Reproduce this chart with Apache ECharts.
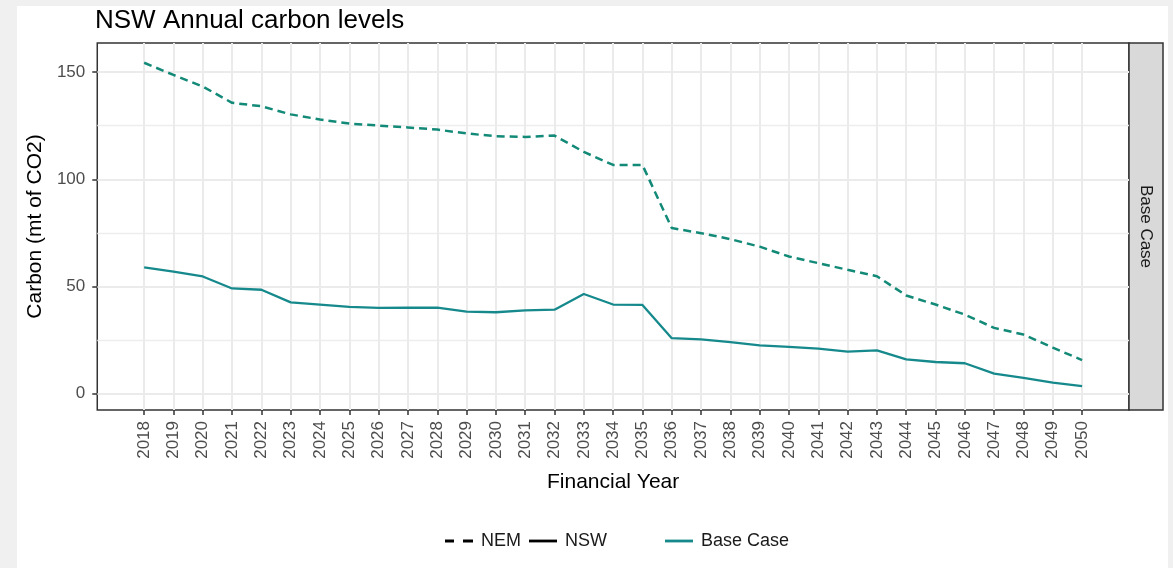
<!DOCTYPE html>
<html>
<head>
<meta charset="utf-8">
<script src="https://cdn.jsdelivr.net/npm/echarts@6/dist/echarts.min.js"></script>
<style>
html,body{margin:0;padding:0;background:#f0f0f0;width:1173px;height:568px;overflow:hidden;}
#wrap{position:absolute;left:17px;top:6px;width:1151px;height:562px;background:#ffffff;}
#chart{width:1151px;height:562px;}
</style>
</head>
<body>
<div id="wrap"><div id="chart"></div></div>
<script>
const years = [2018,2019,2020,2021,2022,2023,2024,2025,2026,2027,2028,2029,2030,2031,2032,2033,2034,2035,2036,2037,2038,2039,2040,2041,2042,2043,2044,2045,2046,2047,2048,2049,2050];
const nemValues = [154.4,148.7,143.3,135.7,134.1,130.3,127.9,126.0,125.1,124.2,123.2,121.4,120.1,119.8,120.4,112.8,106.7,106.7,77.3,74.9,72.1,68.6,64.0,60.9,57.8,54.8,45.8,41.6,36.9,30.7,27.6,21.5,15.7];
const nswValues = [58.9,57.0,54.7,49.1,48.5,42.6,41.6,40.5,40.0,40.1,40.2,38.3,38.0,38.9,39.2,46.5,41.6,41.4,25.9,25.3,24.1,22.5,21.8,21.0,19.6,20.2,16.0,14.8,14.2,9.4,7.4,5.2,3.5];
const yMajorTicks = [0,50,100,150];
const yMinorTicks = [25,75,125];
const titleText = 'NSW Annual carbon levels';
const facetLabel = 'Base Case';

const FONT = "'Liberation Sans', Arial, sans-serif";
const teal = '#16898c';
const tealDash = '#138a78';
const dashIcon = 'path://M0,0H9V2.8H0Z M18,0H28V2.8H18Z';
const solidIcon = 'path://M0,0H28V2.8H0Z';

const chart = echarts.init(document.getElementById('chart'), null, {renderer:'canvas'});
const gridL = 78, gridT = 37, gridW = 1034, gridH = 367;

chart.setOption({
  animation: false,
  backgroundColor: 'transparent',
  textStyle: {fontFamily: FONT},
  title: {
    text: titleText, left: gridL, top: 1, padding: 0,
    textStyle: {fontFamily: FONT, fontSize: 26, fontWeight: 'normal', color: '#000', lineHeight: 28}
  },
  grid: {
    left: gridL, top: gridT, width: gridW, height: gridH,
    show: true, backgroundColor: '#fff', borderColor: '#333', borderWidth: 1.5
  },
  legend: [
    {
      left: 428, top: 526, padding: 0, itemWidth: 28, itemHeight: 2.8, itemGap: 8,
      textStyle: {fontFamily: FONT, fontSize: 18, color: '#1a1a1a', padding: [0, 0, 0, 3]},
      selectedMode: false,
      data: [
        {name: 'NEM', icon: dashIcon, itemStyle: {color: '#000'}},
        {name: 'NSW', icon: solidIcon, itemStyle: {color: '#000'}}
      ]
    },
    {
      left: 648, top: 526, padding: 0, itemWidth: 28, itemHeight: 2.8,
      textStyle: {fontFamily: FONT, fontSize: 18, color: '#1a1a1a', padding: [0, 0, 0, 3]},
      selectedMode: false,
      data: [{name: 'Base Case', icon: solidIcon, itemStyle: {color: teal}}]
    }
  ],
  xAxis: {
    type: 'value', min: 2016.4, max: 2051.6,
    name: 'Financial Year', nameLocation: 'middle', nameGap: 62,
    nameTextStyle: {fontFamily: FONT, fontSize: 21, color: '#000'},
    axisLine: {show: false, onZero: false},
    axisTick: {show: true, length: 5, customValues: years, lineStyle: {color: '#333', width: 1.5}},
    axisLabel: {
      customValues: years, rotate: 90, margin: 11,
      fontFamily: FONT, fontSize: 17, color: '#4d4d4d',
      formatter: v => String(v)
    },
    splitLine: {show: true, lineStyle: {color: '#ebebeb', width: 2}}
  },
  yAxis: [
    {
      type: 'value', min: -7.6, max: 163.6, position: 'left',
      name: 'Carbon (mt of CO2)', nameLocation: 'middle', nameGap: 51,
      nameTextStyle: {fontFamily: FONT, fontSize: 21, color: '#000'},
      axisLine: {show: false, onZero: false},
      axisTick: {show: true, length: 5, customValues: yMajorTicks, lineStyle: {color: '#333', width: 1.5}},
      axisLabel: {customValues: yMajorTicks, margin: 12, fontFamily: FONT, fontSize: 17, color: '#4d4d4d'},
      splitLine: {show: true, lineStyle: {color: '#ebebeb', width: 2}}
    },
    {
      type: 'value', min: -7.6, max: 163.6, position: 'left',
      axisLine: {show: false, onZero: false},
      axisTick: {show: false, length: 0, customValues: yMinorTicks, lineStyle: {color: 'rgba(0,0,0,0)'}},
      axisLabel: {show: false, customValues: yMinorTicks},
      splitLine: {show: true, lineStyle: {color: '#ededed', width: 1.3}}
    }
  ],
  series: [
    {
      name: 'NEM', type: 'line', symbol: 'none', z: 3,
      data: years.map((y, i) => [y, nemValues[i]]),
      lineStyle: {color: tealDash, width: 2.5, type: [8, 5]},
      itemStyle: {color: tealDash}
    },
    {
      name: 'NSW', type: 'line', symbol: 'none', z: 3,
      data: years.map((y, i) => [y, nswValues[i]]),
      lineStyle: {color: teal, width: 2.3, type: 'solid'},
      itemStyle: {color: teal}
    },
    {
      name: 'Base Case', type: 'line', symbol: 'none', data: [],
      lineStyle: {color: teal, width: 2.3}, itemStyle: {color: teal}
    }
  ],
  graphic: [
    {
      type: 'rect', silent: true,
      shape: {x: gridL + gridW, y: gridT, width: 34, height: gridH},
      style: {fill: '#d9d9d9', stroke: '#333', lineWidth: 1.5}
    },
    {
      type: 'text', silent: true,
      x: gridL + gridW + 17, y: gridT + gridH / 2,
      rotation: -Math.PI / 2,
      style: {text: facetLabel, fill: '#1a1a1a', font: "17px 'Liberation Sans', Arial, sans-serif", align: 'center', verticalAlign: 'middle'}
    }
  ]
});
</script>
</body>
</html>
